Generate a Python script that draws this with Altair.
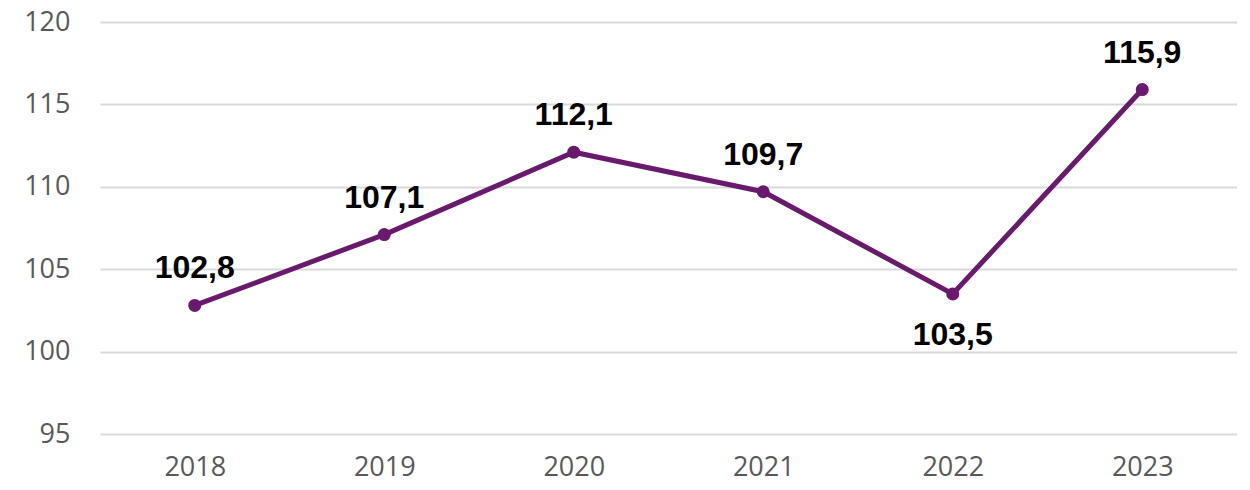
import altair as alt
import pandas as pd

years = ["2018", "2019", "2020", "2021", "2022", "2023"]
values = [102.8, 107.1, 112.1, 109.7, 103.5, 115.9]
labels = ["102,8", "107,1", "112,1", "109,7", "103,5", "115,9"]
label_pos = ["above", "above", "above", "above", "below", "above"]
y_ticks = [95, 100, 105, 110, 115, 120]

df = pd.DataFrame({"year": years, "value": values, "label": labels, "pos": label_pos})

color = "#6A1A6D"

x = alt.X("year:N", sort=years, title=None,
          scale=alt.Scale(type="point", padding=0.5),
          axis=alt.Axis(labelAngle=0, labelFont="Open Sans", labelFontSize=27,
                        labelColor="#595959", ticks=False, domain=False,
                        labelPadding=20, grid=False))
y = alt.Y("value:Q", title=None,
          scale=alt.Scale(domain=[95, 120], nice=False, zero=False),
          axis=alt.Axis(values=y_ticks, labelFont="Open Sans", labelFontSize=27,
                        labelColor="#595959", ticks=False, domain=False,
                        labelPadding=30, gridColor="#D9D9D9", gridWidth=2))

base = alt.Chart(df)

line = base.mark_line(color=color, strokeWidth=5).encode(x=x, y=y)
points = base.mark_point(color=color, filled=True, opacity=1, size=170).encode(x=x, y=y)

text_style = dict(font="Liberation Sans", fontWeight="bold", fontSize=32,
                  color="black", baseline="middle", align="center")
above = base.transform_filter(alt.datum.pos == "above").mark_text(dy=-37, **text_style).encode(
    x=x, y=y, text="label:N")
below = base.transform_filter(alt.datum.pos == "below").mark_text(dy=41, **text_style).encode(
    x=x, y=y, text="label:N")

chart = alt.layer(line, points, above, below).properties(
    width=1137, height=412,
    padding={"left": 15, "top": 0, "right": 0, "bottom": 0},
    view=alt.ViewBackground(stroke="transparent", strokeWidth=0),
).configure(
    background="white",
    view=alt.ViewConfig(stroke="transparent", strokeWidth=0),
)

chart.save("out.html", embed_options={"renderer": "svg", "actions": False})
